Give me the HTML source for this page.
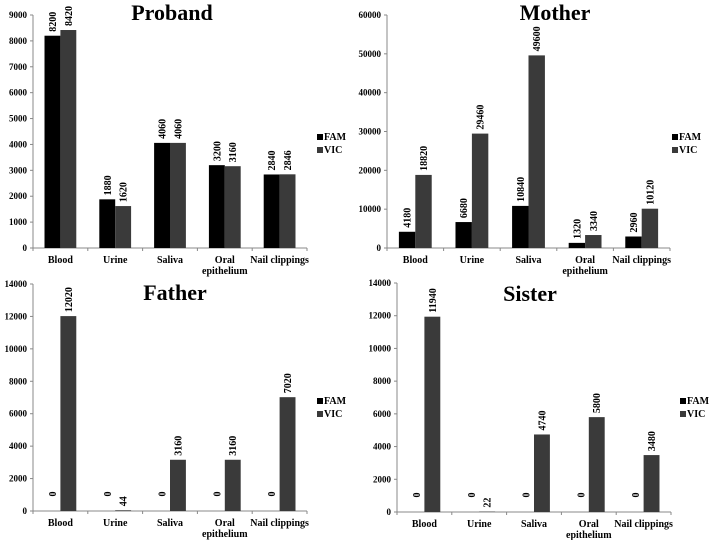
<!DOCTYPE html>
<html><head><meta charset="utf-8"><style>
html,body{margin:0;padding:0;background:#fff;}
svg{display:block;font-family:"Liberation Serif",serif;font-weight:bold;}
</style></head><body>
<svg id="chart" width="709" height="540" viewBox="0 0 709 540" xmlns="http://www.w3.org/2000/svg"></svg>
<script>
const categories = ["Blood","Urine","Saliva","Oral|epithelium","Nail clippings"];
const probandFAM = [8200,1880,4060,3200,2840];
const probandVIC = [8420,1620,4060,3160,2846];
const motherFAM = [4180,6680,10840,1320,2960];
const motherVIC = [18820,29460,49600,3340,10120];
const fatherFAM = [0,0,0,0,0];
const fatherVIC = [12020,44,3160,3160,7020];
const sisterFAM = [0,0,0,0,0];
const sisterVIC = [11940,22,4740,5800,3480];
const probandTicks = [0,1000,2000,3000,4000,5000,6000,7000,8000,9000];
const motherTicks = [0,10000,20000,30000,40000,50000,60000];
const fatherTicks = [0,2000,4000,6000,8000,10000,12000,14000];
const sisterTicks = [0,2000,4000,6000,8000,10000,12000,14000];

const NS="http://www.w3.org/2000/svg";
const svg=document.getElementById('chart');
function el(tag,attrs,parent){const e=document.createElementNS(NS,tag);for(const k in attrs)e.setAttribute(k,attrs[k]);(parent||svg).appendChild(e);return e;}

function panel(name,title,fam,vic,ticks,x0,x1,yTop,yBot,titleX,titleY,legX,legY){
  const g=el('g',{});
  
  
  const max=ticks[ticks.length-1];
  const ys=v=>yBot-(v/max)*(yBot-yTop);
  const cw=(x1-x0)/categories.length;
  const xc=i=>x0+cw*(i+0.5);
  const bw=cw*0.29;
  const t=el('text',{x:titleX,y:titleY,'text-anchor':'middle','font-size':22,fill:'#000'},g);
  t.textContent=title;
  
  
  el('line',{x1:x0,y1:yTop,x2:x0,y2:yBot,stroke:'#888','stroke-width':1},g);
  el('line',{x1:x0,y1:yBot,x2:x1,y2:yBot,stroke:'#888','stroke-width':1},g);
  ticks.forEach(v=>{
    const y=ys(v);
    el('line',{x1:x0-3,y1:y,x2:x0,y2:y,stroke:'#888'},g);
    const tl=el('text',{x:x0-6,y:y+3,'text-anchor':'end','font-size':9},g);
    tl.textContent=v;
    
    
  });
  for(let i=0;i<=categories.length;i++){el('line',{x1:x0+cw*i,y1:yBot,x2:x0+cw*i,y2:yBot+3,stroke:'#888'},g);}
  categories.forEach((c,i)=>{
    const parts=c.split('|');
    parts.forEach((p,j)=>{
      const cl=el('text',{x:xc(i),y:yBot+15+j*11,'text-anchor':'middle','font-size':10},g);
      cl.textContent=p;
      
      
    });
    [[fam[i],'#000',-bw],[vic[i],'#3a3a3a',0]].forEach(([v,col,off])=>{
      const bx=xc(i)+off, by=ys(v);
      const r=el('rect',{x:bx,y:by,width:bw,height:yBot-by,fill:col},g);
      
      
      const ly=v===0?yBot-17:by-4;
      const lx=bx+bw/2+3.5;
      const lt=el('text',{x:lx,y:ly,'font-size':10,transform:`rotate(-90 ${lx} ${ly})`,'text-anchor':v===0?'middle':'start'},g);
      lt.textContent=v;
      
      
    });
  });
  [['FAM','#000'],['VIC','#3a3a3a']].forEach(([n,col],k)=>{
    el('rect',{x:legX,y:legY+k*13-6,width:6,height:6,fill:col},g);
    const lg=el('text',{x:legX+7,y:legY+k*13,'font-size':10},g);
    lg.textContent=n;
    
    
  });
}
panel('proband','Proband',probandFAM,probandVIC,probandTicks,33,307,15,248,172,20,317,140);
panel('mother','Mother',motherFAM,motherVIC,motherTicks,387,670,15,248,555,20,672,140);
panel('father','Father',fatherFAM,fatherVIC,fatherTicks,33,307,284,511,175,300,317,404);
panel('sister','Sister',sisterFAM,sisterVIC,sisterTicks,397,671,283,512,530,301,680,404);
</script>
</body></html>
